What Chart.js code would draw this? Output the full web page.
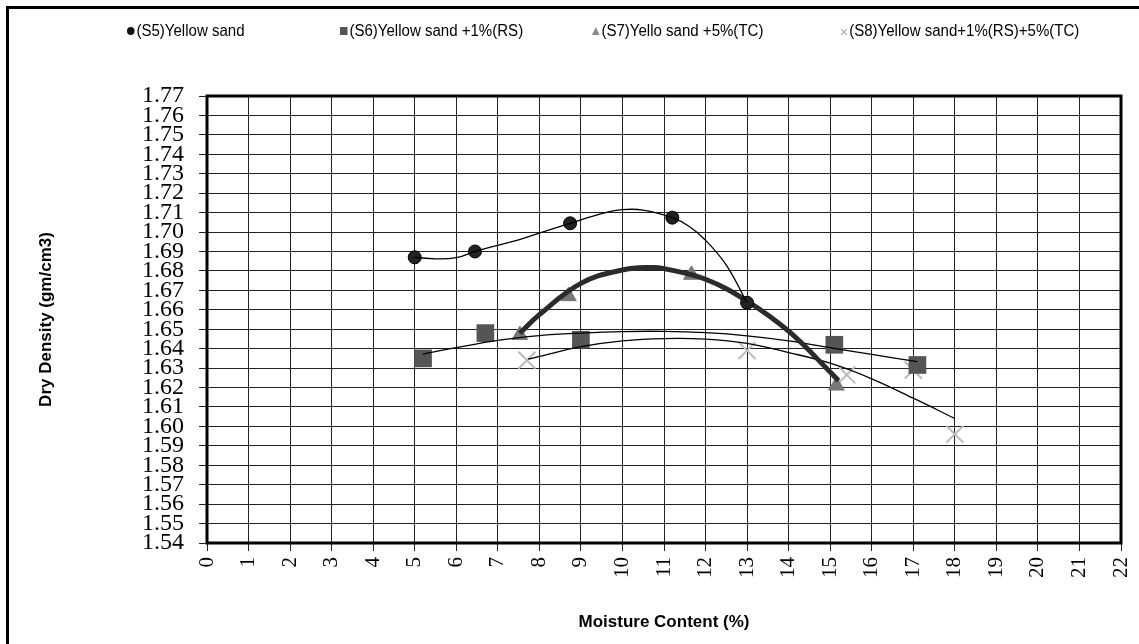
<!DOCTYPE html>
<html>
<head>
<meta charset="utf-8">
<script src="https://cdn.jsdelivr.net/npm/chart.js@4"></script>
<style>
  html, body { margin: 0; padding: 0; background: #fff; }
  #wrap { position: relative; width: 1139px; height: 644px; overflow: hidden; background: #fff; }
  #frame { position: absolute; left: 6px; top: 6px; width: 1140px; height: 700px; border-top: 3px solid #000; border-left: 3px solid #000; box-sizing: border-box; pointer-events: none; }
  canvas { position: absolute; left: 0; top: 0; }
  .lg { position: absolute; top: 22px; font-family: "Liberation Sans", Arial, sans-serif; font-size: 16px; color: #000; white-space: nowrap; line-height: 18px; transform: scaleX(0.94); transform-origin: left center; }
  .sym { display: inline-block; vertical-align: middle; margin-right: 2px; position: relative; top: -1px; }
  .c { width: 8px; height: 8px; border-radius: 50%; background: #111; }
  .s { width: 8px; height: 8px; background: #555; }
  .t { width: 0; height: 0; border-left: 4px solid transparent; border-right: 4px solid transparent; border-bottom: 8px solid #888; }
  .x { color: #aaa; font-size: 15px; top: 0; margin-right: 1px; }
</style>
</head>
<body>
<div id="wrap">
  <canvas id="c" width="1139" height="644"></canvas>
  <div id="frame"></div>
  <div class="lg" style="left:127px"><span class="sym c"></span>(S5)Yellow sand</div>
  <div class="lg" style="left:340px"><span class="sym s"></span>(S6)Yellow sand +1%(RS)</div>
  <div class="lg" style="left:592px"><span class="sym t"></span>(S7)Yello sand +5%(TC)</div>
  <div class="lg" style="left:840px"><span class="sym x">×</span>(S8)Yellow sand+1%(RS)+5%(TC)</div>
</div>
<script>
// ---- tick labels ----
const xTickLabels = ['0','1','2','3','4','5','6','7','8','9','10','11','12','13','14','15','16','17','18','19','20','21','22'];
const yTickLabels = ['1.54','1.55','1.56','1.57','1.58','1.59','1.60','1.61','1.62','1.63','1.64','1.65','1.66','1.67','1.68','1.69','1.70','1.71','1.72','1.73','1.74','1.75','1.76','1.77'];

// ---- measured points ----
const s5X = [5.0, 6.45, 8.74, 11.2, 13.0];
const s5Y = [1.687, 1.690, 1.7045, 1.7074, 1.6636];
const s6X = [5.2, 6.7, 9.0, 15.1, 17.1];
const s6Y = [1.635, 1.648, 1.6446, 1.642, 1.6316];
const s7X = [7.53, 8.7, 11.66, 15.15];
const s7Y = [1.647, 1.667, 1.678, 1.621];
const s8X = [7.7, 13.0, 15.4, 17.0, 18.0];
const s8Y = [1.634, 1.639, 1.6265, 1.629, 1.596];

// ---- trendlines ----
const t5X = [5.0, 5.5, 6.0, 6.45, 7.0, 7.5, 8.0, 8.74, 9.5, 10.0, 10.5, 11.2, 11.6, 12.0, 12.5, 13.0];
const t5Y = [1.687, 1.6862, 1.6868, 1.690, 1.6932, 1.696, 1.6995, 1.7045, 1.7095, 1.7115, 1.7113, 1.7074, 1.703, 1.6958, 1.683, 1.6636];
const t6X = [5.2, 6, 7, 8, 9, 10, 11, 12, 13, 14, 15, 16, 17.1];
const t6Y = [1.6372, 1.6405, 1.6443, 1.6467, 1.648, 1.6488, 1.6489, 1.6482, 1.6466, 1.6440, 1.6405, 1.6370, 1.6333];
const t7X = [7.53, 8, 9, 10, 10.7, 11, 12, 13, 14, 15, 15.2];
const t7Y = [1.6479, 1.6575, 1.6736, 1.6805, 1.6818, 1.6812, 1.6757, 1.6645, 1.649, 1.628, 1.6235];
const t8X = [7.73, 8, 9, 10, 11, 12, 13, 14, 15, 16, 17, 18];
const t8Y = [1.6346, 1.636, 1.641, 1.6440, 1.6452, 1.6449, 1.6427, 1.6380, 1.6325, 1.6245, 1.6145, 1.6041];

const pts = (xs, ys) => xs.map((x, i) => ({x: x, y: ys[i]}));

const trend = (xs, ys, color, width, order) => ({
  type: 'line', data: pts(xs, ys), borderColor: color, borderWidth: width,
  pointRadius: 0, tension: 0.4, fill: false, order: order
});
const marks = (xs, ys, style, radius, fill, stroke, bw, order) => ({
  type: 'scatter', data: pts(xs, ys), pointStyle: style, pointRadius: radius,
  backgroundColor: fill, borderColor: stroke, pointBorderWidth: bw, showLine: false, order: order
});

const frame = {
  id: 'frame',
  beforeDatasetsDraw(chart) {
    const a = chart.chartArea, ctx = chart.ctx;
    ctx.save();
    ctx.strokeStyle = '#000';
    ctx.lineWidth = 3;
    ctx.strokeRect(a.left, a.top, a.right - a.left, a.bottom - a.top);
    ctx.restore();
  }
};

new Chart(document.getElementById('c'), {
  data: {
    datasets: [
      marks(s8X, s8Y, 'crossRot', 12, '#bbb', '#bbb', 2, 8),
      marks(s7X, s7Y, 'triangle', 9, '#777', '#777', 1, 7),
      marks(s6X, s6Y, 'rect', 12.5, '#555', '#555', 0, 6),
      trend(t8X, t8Y, '#000', 1.3, 5),
      trend(t6X, t6Y, '#000', 1.3, 4),
      trend(t7X, t7Y, '#2b2b2b', 5, 3),
      marks(s5X, s5Y, 'circle', 6.5, '#222', '#000', 1, 2),
      trend(t5X, t5Y, '#000', 1.3, 1)
    ]
  },
  options: {
    responsive: false,
    animation: false,
    layout: { padding: { top: 96, right: 18, left: 0, bottom: 0 } },
    plugins: { legend: { display: false }, tooltip: { enabled: false } },
    scales: {
      x: {
        type: 'linear', min: 0, max: 22,
        afterBuildTicks: s => { s.ticks = xTickLabels.map(l => ({ value: Number(l) })); },
        afterFit: s => { s.height = 101; s.paddingRight = 0; s.paddingLeft = 0; },
        ticks: {
          autoSkip: false, minRotation: 90, maxRotation: 90, padding: 6,
          color: '#000', font: { family: 'Liberation Serif', size: 21 },
          callback: (v, i) => xTickLabels[i]
        },
        grid: { color: '#222', lineWidth: 1, tickLength: 8 },
        border: { display: false },
        title: {
          display: true, text: 'Moisture Content (%)', color: '#000',
          font: { family: 'Liberation Sans', size: 17, weight: 'bold' },
          padding: { top: 0, bottom: 11 }
        }
      },
      y: {
        type: 'linear', min: 1.54, max: 1.77,
        afterBuildTicks: s => { s.ticks = yTickLabels.map(l => ({ value: Number(l) })); },
        afterFit: s => { s.width = 207; s.paddingTop = 0; s.paddingBottom = 0; },
        ticks: {
          autoSkip: false, padding: 15, color: '#000',
          font: { family: 'Liberation Serif', size: 24, lineHeight: 1 },
          callback: (v, i) => yTickLabels[i]
        },
        grid: { color: '#222', lineWidth: 1, tickLength: 8 },
        border: { display: false },
        title: {
          display: true, text: 'Dry Density (gm/cm3)', color: '#000',
          font: { family: 'Liberation Sans', size: 17, weight: 'bold' },
          padding: { top: 36 }
        }
      }
    }
  },
  plugins: [frame]
});
</script>
</body>
</html>
